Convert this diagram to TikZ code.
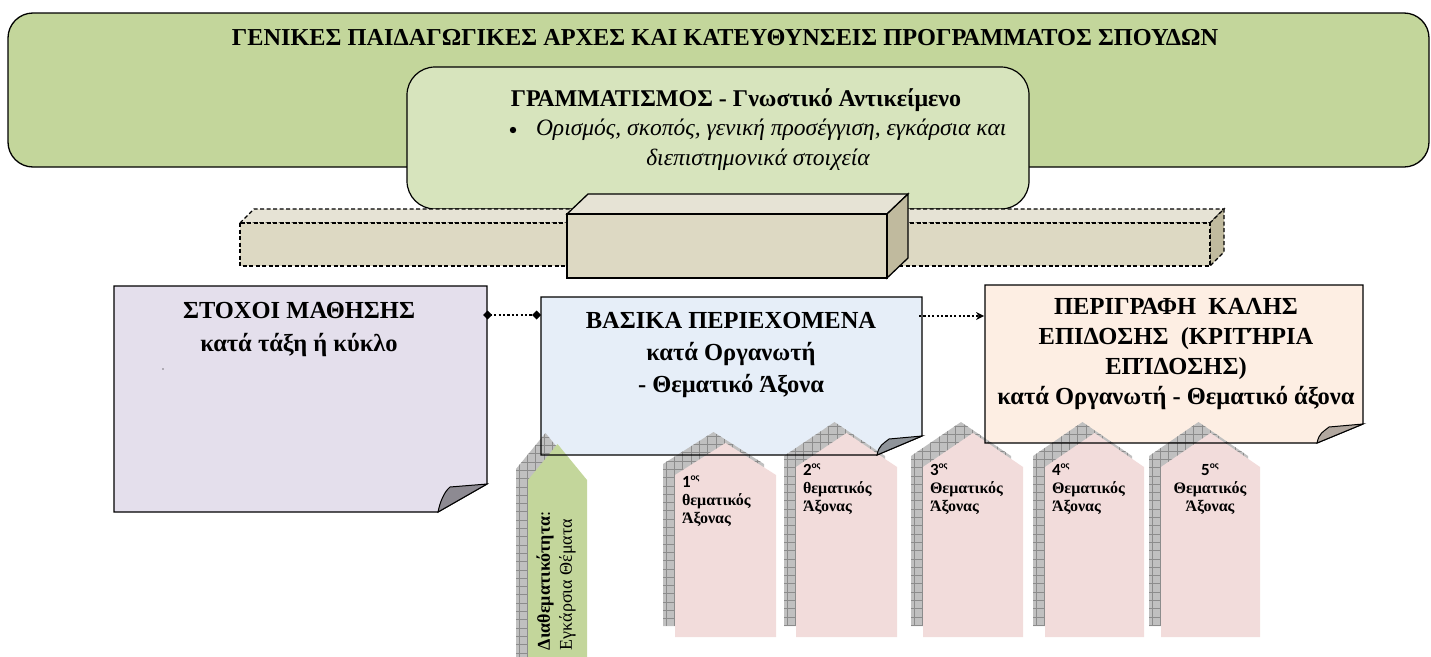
\documentclass[tikz,border=0pt]{standalone}
\usepackage{fontspec}
\setmainfont{Liberation Serif}
\newfontfamily\numfont{Carlito}
\usetikzlibrary{arrows.meta,calc}

\definecolor{bannergreen}{HTML}{C3D69B}
\definecolor{innergreen}{HTML}{D7E4BD}
\definecolor{beamfront}{HTML}{DDD9C3}
\definecolor{beamtop}{HTML}{E6E3D5}
\definecolor{beamside}{HTML}{C0BA9E}
\definecolor{lavender}{HTML}{E4DFEC}
\definecolor{paleblue}{HTML}{E6EEF8}
\definecolor{peach}{HTML}{FDEEE3}
\definecolor{rosepink}{HTML}{F2DCDB}
\definecolor{crossgreen}{HTML}{C3D69B}
\definecolor{gridgrey}{HTML}{C0C0C0}
\definecolor{gridline}{HTML}{8C8C8C}

\tikzset{
  txt/.style={inner sep=0pt, outer sep=0pt, align=center},
  notearea/.style={inner sep=0pt, outer sep=0pt, draw=none, fill=none},
  noteline/.style={draw=black, line width=1.2pt, line join=miter},
  beamdash/.style={draw=black, line width=1.1pt, dash pattern=on 4pt off 2.5pt},
  beamsolid/.style={draw=black, line width=1.3pt},
  dotline/.style={line width=2.2pt, dash pattern=on 2.2pt off 2.2pt},
  gridstroke/.style={draw=gridline, line width=0.6pt},
  notefont/.style={font=\fontsize{24.5}{#1}\selectfont\bfseries},
  axisfont/.style={font=\fontsize{16}{18}\selectfont\bfseries},
}

% sticky note body: node name, fill, fold width, fold height
\newcommand\notebody[4]{%
  \fill[#2] (#1.north west) -- (#1.north east) -- ($(#1.south east)+(0,-#4)$)
    -- ($(#1.south east)+(-#3,0)$) -- (#1.south west) -- cycle;}
% sticky note outline and curled corner: node name, fold colour, fold width, fold height
\newcommand\noteedge[4]{%
  \draw[noteline] (#1.north west) -- (#1.north east) -- ($(#1.south east)+(0,-#4)$)
    -- ($(#1.south east)+(-#3,0)$) -- (#1.south west) -- cycle;
  \filldraw[noteline, line width=1pt, fill=#2] ($(#1.south east)+(-#3,0)$)
    .. controls +(2,-10) and +(-6,5) .. ($(#1.south east)+(-#3+12,-#4+3)$)
    -- ($(#1.south east)+(0,-#4)$) -- cycle;}
% axis arrow with its grid shadow: left, right, apex y, shoulder y, bottom y, fill
\newcommand\axisarrow[6]{%
  \begin{scope}[shift={(-12,-11)}]
    \fill[gridgrey] (#1,#5) -- (#1,#4) -- ({(#1+#2)/2},#3) -- (#2,#4) -- (#2,#5) -- cycle;
    \begin{scope}
      \clip (#1,#5) -- (#1,#4) -- ({(#1+#2)/2},#3) -- (#2,#4) -- (#2,#5) -- cycle;
      \foreach \k in {0,...,13} \draw[gridstroke] ({#1+3+\k*8.3},#3) -- ({#1+3+\k*8.3},#5);
      \foreach \k in {0,...,28} \draw[gridstroke] (#1,{#3+4+\k*8.3}) -- (#2,{#3+4+\k*8.3});
    \end{scope}
  \end{scope}
  \fill[#6] (#1,#5) -- (#1,#4) -- ({(#1+#2)/2},#3) -- (#2,#4) -- (#2,#5) -- cycle;}
\newcommand\axisnum[1]{{\numfont\bfseries\fontsize{17}{17}\selectfont #1}\raisebox{0.42em}{\numfont\fontsize{9.5}{9.5}\selectfont ος}}

\begin{document}
\begin{tikzpicture}[x=1pt,y=-1pt]
\useasboundingbox (0,0) rectangle (1431,656);

% general principles banner
\node[draw, line width=1.3pt, rounded corners=25pt, fill=bannergreen,
      minimum width=1421pt, minimum height=154pt, inner sep=0pt] (banner) at (718.5,90) {};
\node[txt, font=\fontsize{24.3}{24.3}\selectfont\bfseries] (bannertitle) at (725,38)
  {ΓΕΝΙΚΕΣ ΠΑΙΔΑΓΩΓΙΚΕΣ ΑΡΧΕΣ ΚΑΙ ΚΑΤΕΥΘΥΝΣΕΙΣ ΠΡΟΓΡΑΜΜΑΤΟΣ ΣΠΟΥΔΩΝ};

% subject box
\node[draw, line width=1.2pt, rounded corners=28pt, fill=innergreen,
      minimum width=622pt, minimum height=142pt, inner sep=0pt] (subject) at (718,138) {};
\node[txt, font=\fontsize{24}{24}\selectfont\bfseries] (subjecttitle) at (736,100)
  {ΓΡΑΜΜΑΤΙΣΜΟΣ - Γνωστικό Αντικείμενο};
\fill (513,130) circle (3.2pt);
\node[txt, anchor=west, font=\fontsize{23.5}{23.5}\selectfont\itshape] (subjectline) at (536,130)
  {Ορισμός, σκοπός, γενική προσέγγιση, εγκάρσια και};
\node[txt, font=\fontsize{23.5}{23.5}\selectfont\itshape] (subjectlinetwo) at (758,160)
  {διεπιστημονικά στοιχεία};

% long dashed beam
\filldraw[beamdash, fill=beamtop] (240,223) -- (254,209) -- (1224,209) -- (1210,223) -- cycle;
\filldraw[beamdash, fill=beamside] (1210,223) -- (1224,209) -- (1224,252) -- (1210,266) -- cycle;
\filldraw[beamdash, fill=beamfront] (240,223) rectangle (1210,266);
% solid middle block
\filldraw[beamsolid, fill=beamtop] (567,214) -- (588,194) -- (908,194) -- (887,214) -- cycle;
\filldraw[beamsolid, fill=beamside] (887,214) -- (908,194) -- (908,258) -- (887,278) -- cycle;
\filldraw[beamsolid, fill=beamfront] (567,214) rectangle (887,278);

% note areas
\node[notearea, minimum width=373pt, minimum height=226pt] (goals) at (300.5,399) {};
\node[notearea, minimum width=381pt, minimum height=158pt] (core) at (731.5,376) {};
\node[notearea, minimum width=378pt, minimum height=158pt] (perf) at (1174,364) {};

\notebody{goals}{lavender}{49}{28}
\notebody{core}{paleblue}{45}{19}
\notebody{perf}{peach}{46}{19}

% axis arrows
\axisarrow{528}{587}{444}{480}{668}{crossgreen}
\axisarrow{675}{776}{443}{475}{637}{rosepink}
\axisarrow{796}{897}{433}{467}{637}{rosepink}
\axisarrow{923}{1023}{433}{467}{637}{rosepink}
\axisarrow{1045}{1144}{433}{467}{637}{rosepink}
\axisarrow{1161}{1260}{433}{467}{637}{rosepink}

\noteedge{goals}{lavender!62!black}{49}{28}
\noteedge{core}{paleblue!62!black}{45}{19}
\noteedge{perf}{peach!70!black}{46}{19}

% connectors
\draw[dotline, {Diamond[length=9pt,width=9pt,line width=0pt]}-{Diamond[length=9pt,width=9pt,line width=0pt]}]
  ($(goals.north east)+(-4,29)$) -- ($(core.north west)+(0,18)$);
\draw[dotline, -{Stealth[length=8pt,width=8pt,line width=0pt]}]
  ($(core.north east)+(-3,19)$) -- ($(perf.north west)+(-1,31)$);

% note texts
\node[txt, notefont=33] (goalstext) at (299,329)
  {ΣΤΟΧΟΙ ΜΑΘΗΣΗΣ\\κατά τάξη ή κύκλο};
\fill (163,369) circle (0.7pt);
\node[txt, notefont=32] (coretext) at (731,355)
  {ΒΑΣΙΚΑ ΠΕΡΙΕΧΟΜΕΝΑ\\κατά Οργανωτή\\- Θεματικό Άξονα};
\node[txt, notefont=30] (perftext) at (1176,354)
  {ΠΕΡΙΓΡΑΦΗ~ ΚΑΛΗΣ\\ΕΠΙΔΟΣΗΣ~ (ΚΡΙΤΉΡΙΑ\\ΕΠΊΔΟΣΗΣ)\\κατά Οργανωτή - Θεματικό άξονα};

% axis texts
\node[txt, rotate=90, anchor=west, align=left, font=\fontsize{18}{22}\selectfont] (crosstext) at (556,650)
  {\textbf{Διαθεματικότητα}:\\Εγκάρσια Θέματα};
\node[txt, anchor=north west, align=left, axisfont] (axisone) at (682,476)
  {\axisnum{1}\\θεματικός\\Άξονας};
\node[txt, anchor=north west, align=left, axisfont] (axistwo) at (803,464)
  {\axisnum{2}\\θεματικός\\Άξονας};
\node[txt, anchor=north west, align=left, axisfont] (axisthree) at (930,464)
  {\axisnum{3}\\Θεματικός\\Άξονας};
\node[txt, anchor=north west, align=left, axisfont] (axisfour) at (1052,464)
  {\axisnum{4}\\Θεματικός\\Άξονας};
\node[txt, anchor=north, align=center, axisfont] (axisfive) at (1210,464)
  {\axisnum{5}\\Θεματικός\\Άξονας};
\end{tikzpicture}
\end{document}
